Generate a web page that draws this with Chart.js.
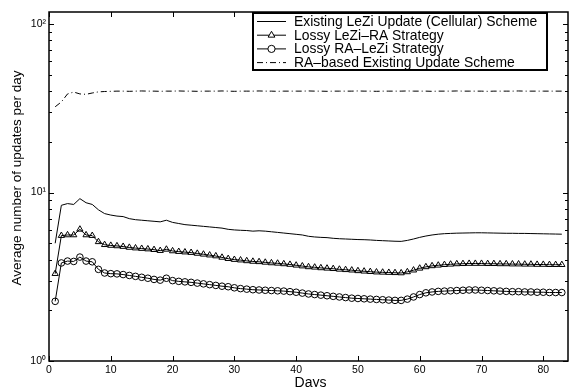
<!DOCTYPE html>
<html>
<head>
<meta charset="utf-8">
<script src="https://cdn.jsdelivr.net/npm/chart.js@4/dist/chart.umd.min.js"></script>
<style>
  body { margin: 0; background: #fff; }
  #wrap { width: 573px; height: 387px; }
</style>
</head>
<body>
<div id="wrap"><canvas id="chart" width="573" height="387"></canvas></div>
<script>
// days 1..83
const days = [1,2,3,4,5,6,7,8,9,10,11,12,13,14,15,16,17,18,19,20,
  21,22,23,24,25,26,27,28,29,30,31,32,33,34,35,36,37,38,39,40,
  41,42,43,44,45,46,47,48,49,50,51,52,53,54,55,56,57,58,59,60,
  61,62,63,64,65,66,67,68,69,70,71,72,73,74,75,76,77,78,79,80,81,82,83];

const leziUpdate = [5.0,8.4,8.6,8.5,9.2,8.7,8.5,7.9,7.5,7.35,
  7.25,7.2,7.0,6.9,6.85,6.8,6.75,6.7,6.85,6.65,
  6.55,6.45,6.4,6.35,6.3,6.25,6.2,6.15,6.05,6.0,
  5.97,5.95,5.9,5.93,5.9,5.85,5.8,5.75,5.7,5.65,
  5.6,5.5,5.45,5.42,5.4,5.35,5.32,5.3,5.28,5.26,
  5.25,5.23,5.2,5.18,5.16,5.14,5.13,5.2,5.3,5.42,
  5.52,5.6,5.66,5.7,5.72,5.74,5.75,5.76,5.77,5.77,
  5.76,5.75,5.74,5.73,5.73,5.72,5.72,5.71,5.7,5.69,5.68,5.67,5.66];

const lossyLeziRA = [3.3,5.55,5.6,5.6,6.05,5.6,5.55,5.1,4.9,4.85,
  4.82,4.78,4.72,4.68,4.65,4.62,4.58,4.52,4.6,4.5,
  4.46,4.43,4.4,4.35,4.3,4.25,4.2,4.12,4.05,4.0,
  3.97,3.93,3.9,3.88,3.85,3.82,3.8,3.77,3.74,3.7,
  3.66,3.62,3.6,3.57,3.55,3.53,3.5,3.48,3.46,3.43,
  3.41,3.39,3.37,3.36,3.35,3.34,3.33,3.38,3.46,3.55,
  3.62,3.67,3.7,3.73,3.75,3.77,3.78,3.79,3.79,3.79,
  3.78,3.78,3.77,3.77,3.76,3.76,3.75,3.75,3.74,3.74,3.73,3.73,3.73];

const lossyRALezi = [2.26,3.82,3.92,3.9,4.14,3.92,3.88,3.5,3.33,3.3,
  3.29,3.26,3.22,3.18,3.14,3.1,3.05,3.02,3.1,3.0,
  2.97,2.95,2.93,2.9,2.87,2.84,2.81,2.78,2.76,2.72,
  2.69,2.67,2.65,2.64,2.63,2.62,2.61,2.6,2.58,2.56,
  2.53,2.5,2.48,2.46,2.44,2.42,2.4,2.38,2.36,2.35,
  2.34,2.33,2.32,2.31,2.3,2.29,2.29,2.33,2.4,2.48,
  2.54,2.57,2.59,2.6,2.61,2.62,2.63,2.64,2.64,2.63,
  2.62,2.61,2.6,2.59,2.58,2.58,2.57,2.57,2.56,2.56,2.55,2.55,2.55];

const raBased = [32.3,34.5,38.5,39.5,38.5,38.3,39.0,39.6,39.8,39.9,
  40.0,40.0,39.9,40.0,40.1,40.0,40.0,39.9,40.0,40.0,
  40.1,40.0,40.0,39.9,40.0,40.0,40.0,40.1,40.0,39.9,
  40.0,40.0,40.0,40.1,40.0,40.0,39.9,40.0,40.0,40.0,
  40.0,40.1,40.0,40.0,39.9,40.0,40.0,40.0,40.0,40.1,
  40.0,40.0,39.9,40.0,40.0,40.0,40.0,40.1,40.0,40.0,
  40.0,39.9,40.0,40.0,40.0,40.1,40.0,40.0,40.0,40.0,
  39.9,40.0,40.0,40.0,40.0,40.1,40.0,40.0,40.0,40.0,40.0,40.0,40.0];

const xTicks = [0,10,20,30,40,50,60,70,80];
const yMajor = [1,10,100];
const yLabels = ['10\u2070','10\u00b9','10\u00b2'];
const yMinor = [2,3,4,5,6,7,8,9,20,30,40,50,60,70,80,90];

const seriesNames = [
  'Existing LeZi Update (Cellular) Scheme',
  'Lossy LeZi\u2013RA Strategy',
  'Lossy RA\u2013LeZi Strategy',
  'RA\u2013based Existing Update Scheme'
];
const xTitle = 'Days';
const yTitle = 'Average number of updates per day';

const FONT = 'Liberation Sans, Arial, Helvetica, sans-serif';

function pts(arr) { return days.map((d, i) => ({ x: d, y: arr[i] })); }

// inward ticks, full box, titles and legend, like the matlab figure
const boxPlugin = {
  id: 'box',
  afterDatasetsDraw(chart) {
    const c = chart.ctx, a = chart.chartArea;
    const xs = chart.scales.x, ys = chart.scales.y;
    c.save();
    c.strokeStyle = '#000';
    c.lineWidth = 1;
    c.beginPath();
    xTicks.forEach(v => {
      const px = Math.round(xs.getPixelForValue(v)) + 0.5;
      c.moveTo(px, a.bottom); c.lineTo(px, a.bottom - 5);
      c.moveTo(px, a.top); c.lineTo(px, a.top + 5);
    });
    yMajor.forEach(v => {
      const py = Math.round(ys.getPixelForValue(v)) + 0.5;
      c.moveTo(a.left, py); c.lineTo(a.left + 5, py);
      c.moveTo(a.right, py); c.lineTo(a.right - 5, py);
    });
    yMinor.forEach(v => {
      const py = Math.round(ys.getPixelForValue(v)) + 0.5;
      c.moveTo(a.left, py); c.lineTo(a.left + 3, py);
      c.moveTo(a.right, py); c.lineTo(a.right - 3, py);
    });
    c.stroke();
    c.lineWidth = 1.5;
    c.strokeRect(a.left, a.top, a.right - a.left, a.bottom - a.top);

    // axis titles
    c.fillStyle = '#000';
    c.textAlign = 'center';
    c.textBaseline = 'alphabetic';
    c.font = '14px ' + FONT;
    c.fillText(xTitle, (a.left + a.right) / 2 + 2, 387);
    c.save();
    c.translate(21, 178);
    c.rotate(-Math.PI / 2);
    c.font = '13.5px ' + FONT;
    c.fillText(yTitle, 0, 0);
    c.restore();

    // legend box
    const lx = 253, ly = 13, lw = 294, lh = 57;
    c.fillStyle = '#fff';
    c.fillRect(lx, ly, lw, lh);
    c.lineWidth = 2;
    c.strokeRect(lx, ly, lw, lh);
    c.font = '13.9px ' + FONT;
    c.textAlign = 'left';
    c.textBaseline = 'middle';
    chart.data.datasets.forEach((ds, i) => {
      const y = ly + 8.5 + i * 13.7;
      c.save();
      c.strokeStyle = '#000';
      c.lineWidth = 1;
      c.setLineDash(ds.borderDash || []);
      c.beginPath();
      c.moveTo(257, y); c.lineTo(286, y);
      c.stroke();
      c.restore();
      if (ds.pointStyle && ds.pointRadius > 0) {
        c.fillStyle = '#fff';
        c.strokeStyle = '#000';
        c.lineWidth = 1;
        Chart.helpers.drawPoint(c, {
          pointStyle: ds.pointStyle, radius: ds.pointRadius + 0.3,
          borderWidth: 1, rotation: 0
        }, 271.5, y);
      }
      c.fillStyle = '#000';
      c.fillText(ds.label, 294, y + 0.5);
    });
    c.restore();
  }
};

new Chart(document.getElementById('chart'), {
  type: 'line',
  data: {
    datasets: [
      { label: seriesNames[0], data: pts(leziUpdate), borderColor: '#000', borderWidth: 1,
        pointRadius: 0, pointStyle: false, tension: 0 },
      { label: seriesNames[1], data: pts(lossyLeziRA), borderColor: '#000', borderWidth: 1,
        pointStyle: 'triangle', pointRadius: 3.6, pointBorderWidth: 1,
        pointBorderColor: '#000', pointBackgroundColor: 'rgba(0,0,0,0)', tension: 0 },
      { label: seriesNames[2], data: pts(lossyRALezi), borderColor: '#000', borderWidth: 1,
        pointStyle: 'circle', pointRadius: 3.3, pointBorderWidth: 1,
        pointBorderColor: '#000', pointBackgroundColor: 'rgba(0,0,0,0)', tension: 0 },
      { label: seriesNames[3], data: pts(raBased), borderColor: '#000', borderWidth: 1,
        borderDash: [6, 3, 1, 3], pointRadius: 0, pointStyle: false, tension: 0 }
    ]
  },
  options: {
    responsive: false,
    animation: false,
    layout: { padding: { top: 12, right: 4, left: 0, bottom: 0 } },
    plugins: { legend: { display: false }, tooltip: { enabled: false } },
    scales: {
      x: {
        type: 'linear', min: 0, max: 84,
        afterBuildTicks: s => { s.ticks = xTicks.map(v => ({ value: v })); },
        afterFit: s => { s.height = 26; },
        grid: { display: false, drawTicks: false },
        border: { display: false },
        ticks: { color: '#000', font: { family: FONT, size: 10.5 }, padding: 3, maxRotation: 0 }
      },
      y: {
        type: 'logarithmic', min: 1, max: 118,
        afterBuildTicks: s => { s.ticks = yMajor.map(v => ({ value: v })); },
        afterFit: s => { s.width = 49; },
        grid: { display: false, drawTicks: false },
        border: { display: false },
        ticks: {
          color: '#000', font: { family: FONT, size: 10.5 }, padding: 3,
          callback: v => yLabels[yMajor.indexOf(v)] || ''
        }
      }
    }
  },
  plugins: [boxPlugin]
});
</script>
</body>
</html>
